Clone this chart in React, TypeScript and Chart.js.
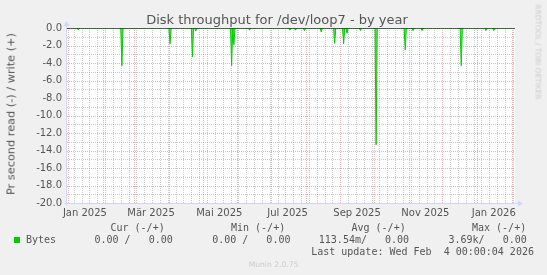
import React, { useEffect, useRef } from 'react';
import { Chart, registerables } from 'chart.js';

Chart.register(...registerables);

// ---------- data ----------
const TITLE = 'Disk throughput for /dev/loop7 - by year';
const Y_TITLE = 'Pr second read (-) / write (+)';
const WATERMARK = 'RRDTOOL / TOBI OETIKER';
const FOOTER = 'Munin 2.0.75';
const LAST_UPDATE = 'Last update: Wed Feb  4 00:00:04 2026';

// x = days since 31 Dec 2024 00:00 (graph spans 400 days up to 4 Feb 2026)
const DAY_MAX = 400;

// read (negative) throughput spikes: day index and value
const spikeDays = [10, 49, 92, 112, 115, 147, 149, 163, 199, 204, 212, 227, 239, 247, 250, 262, 276, 302, 309, 317, 352, 374, 381];
const spikeValues = [-0.2, -4.3, -1.8, -3.3, -0.35, -4.3, -1.9, -0.25, -0.25, -0.25, -0.3, -0.45, -1.75, -1.8, -0.6, -0.3, -13.35, -2.5, -0.3, -0.3, -4.3, -0.3, -0.3];

// write (positive) series: zero throughout
const writeDays = [0, DAY_MAX];
const writeValues = [0, 0];

// axis ticks
const monthStartDays = [1, 32, 60, 91, 121, 152, 182, 213, 244, 274, 305, 335, 366, 397];
const firstMonday = 6;
const xLabelDays = [16, 75, 136, 197, 259, 320, 381];
const xLabels = ['Jan 2025', 'Mär 2025', 'Mai 2025', 'Jul 2025', 'Sep 2025', 'Nov 2025', 'Jan 2026'];
const Y_MIN = -20;
const Y_MAX = 0;

// legend
const legendSeries = 'Bytes';
const legendHeaders = ['Cur (-/+)', 'Min (-/+)', 'Avg (-/+)', 'Max (-/+)'];
const legendValues = ['0.00 /   0.00', '0.00 /   0.00', '113.54m/   0.00', '3.69k/   0.00'];

// ---------- styles ----------
const GREEN = '#00cc00';
const FONT_COLOR = '#555555';
const AXIS_COLOR = '#CFD6F8';
const MAJOR_GRID = 'rgba(235,110,110,0.55)';
const MINOR_GRID = 'rgba(140,140,140,0.45)';
const SANS = '"DejaVu Sans", sans-serif';
const MONO = '"DejaVu Sans Mono", monospace';

const weekDays: number[] = [];
for (let d = firstMonday; d <= DAY_MAX; d += 7) weekDays.push(d);

const xTickValues = Array.from(new Set([...weekDays, ...monthStartDays, ...xLabelDays])).sort((a, b) => a - b);
const xLabelFor = (v: number) => {
  const i = xLabelDays.indexOf(v);
  return i >= 0 ? xLabels[i] : '';
};

const readSeries = Array.from({ length: DAY_MAX + 1 }, (_, d) => {
  const i = spikeDays.indexOf(d);
  return { x: d, y: i >= 0 ? spikeValues[i] : 0 };
});
const writeSeries = writeDays.map((d, i) => ({ x: d, y: writeValues[i] }));

const framePlugin = {
  id: 'muninFrame',
  beforeDraw(chart: any) {
    const { ctx, chartArea: a } = chart;
    ctx.save();
    ctx.fillStyle = '#f0f0f0';
    ctx.fillRect(0, 0, chart.width, chart.height);
    ctx.fillStyle = '#ffffff';
    ctx.fillRect(a.left, a.top, a.right - a.left, a.bottom - a.top);
    ctx.restore();
  },
  beforeDatasetsDraw(chart: any) {
    const { ctx, chartArea: a, scales } = chart;
    const xs = scales.x;
    const ys = scales.y;
    ctx.save();
    ctx.lineWidth = 1;
    ctx.setLineDash([1, 1]);
    const vline = (v: number, color: string) => {
      const px = Math.round(xs.getPixelForValue(v)) + 0.5;
      ctx.strokeStyle = color;
      ctx.beginPath();
      ctx.moveTo(px, a.bottom);
      ctx.lineTo(px, a.top);
      ctx.stroke();
    };
    const hline = (v: number, color: string) => {
      const py = Math.round(ys.getPixelForValue(v)) + 0.5;
      ctx.strokeStyle = color;
      ctx.beginPath();
      ctx.moveTo(a.left, py);
      ctx.lineTo(a.right, py);
      ctx.stroke();
    };
    weekDays.filter((d) => monthStartDays.indexOf(d) < 0).forEach((d) => vline(d, MINOR_GRID));
    for (let v = Y_MIN; v <= Y_MAX; v += 1) {
      if (Math.abs(v % 2) === 1) hline(v, MINOR_GRID);
    }
    monthStartDays.forEach((d) => vline(d, MAJOR_GRID));
    for (let v = Y_MIN; v <= Y_MAX; v += 2) hline(v, MAJOR_GRID);
    ctx.restore();
  },
  afterDraw(chart: any) {
    const { ctx, chartArea: a } = chart;
    ctx.save();
    ctx.strokeStyle = AXIS_COLOR;
    ctx.fillStyle = AXIS_COLOR;
    ctx.lineWidth = 1;
    const bx = Math.round(a.left) - 0.5;
    const by = Math.round(a.bottom) + 0.5;
    ctx.beginPath();
    ctx.moveTo(bx - 2, by);
    ctx.lineTo(a.right + 4, by);
    ctx.moveTo(bx, by + 2);
    ctx.lineTo(bx, a.top - 2);
    ctx.stroke();
    ctx.beginPath();
    ctx.moveTo(a.right + 3, by - 3);
    ctx.lineTo(a.right + 8, by);
    ctx.lineTo(a.right + 3, by + 3);
    ctx.closePath();
    ctx.fill();
    ctx.beginPath();
    ctx.moveTo(bx - 3, a.top - 2);
    ctx.lineTo(bx, a.top - 7);
    ctx.lineTo(bx + 3, a.top - 2);
    ctx.closePath();
    ctx.fill();
    ctx.restore();
  },
};

export default function App() {
  const ref = useRef<HTMLCanvasElement>(null);

  useEffect(() => {
    const chart = new Chart(ref.current as HTMLCanvasElement, {
      type: 'line',
      data: {
        datasets: [
          {
            label: 'read',
            data: readSeries,
            borderColor: GREEN,
            backgroundColor: 'rgba(0,204,0,0.6)',
            borderWidth: 1,
            fill: 'origin',
            pointRadius: 0,
            tension: 0,
            order: 2,
          },
          {
            label: 'zero',
            data: writeSeries,
            borderColor: '#000000',
            borderWidth: 1,
            fill: false,
            pointRadius: 0,
            tension: 0,
            order: 1,
          },
        ],
      },
      options: {
        animation: false,
        responsive: false,
        parsing: false as any,
        layout: { padding: { left: 0, top: 28, right: 32, bottom: 0 } },
        plugins: {
          legend: { display: false },
          title: { display: false },
          tooltip: { enabled: false },
        },
        scales: {
          x: {
            type: 'linear',
            min: 0,
            max: DAY_MAX,
            afterBuildTicks: (scale: any) => {
              scale.ticks = xTickValues.map((v) => ({ value: v }));
            },
            afterFit: (scale: any) => {
              scale.height = 72;
            },
            ticks: {
              autoSkip: false,
              maxRotation: 0,
              minRotation: 0,
              padding: 4,
              color: FONT_COLOR,
              font: { family: SANS, size: 10 },
              callback: (v: any) => xLabelFor(Number(v)),
            },
            grid: { display: false, drawTicks: false },
            border: { display: false },
          },
          y: {
            type: 'linear',
            min: Y_MIN,
            max: Y_MAX,
            afterFit: (scale: any) => {
              scale.width = 67;
            },
            ticks: {
              stepSize: 2,
              autoSkip: false,
              padding: 5,
              color: FONT_COLOR,
              font: { family: SANS, size: 10 },
              callback: (v: any) => Number(v).toFixed(1),
            },
            grid: { display: false, drawTicks: false },
            border: { display: false },
          },
        },
      } as any,
      plugins: [framePlugin],
    });
    return () => chart.destroy();
  }, []);

  const mono: React.CSSProperties = {
    position: 'absolute',
    fontFamily: MONO,
    fontSize: 10,
    lineHeight: '12px',
    color: FONT_COLOR,
    whiteSpace: 'pre',
  };
  const headerLefts = [110.5, 231, 351.5, 472];
  const valueLefts = [94.5, 212.2, 318.8, 448.5];

  return (
    <div
      style={{
        position: 'fixed',
        left: 0,
        top: 0,
        width: 547,
        height: 275,
        background: '#f0f0f0',
        overflow: 'hidden',
      }}
    >
      <canvas
        ref={ref}
        width={547}
        height={275}
        style={{ position: 'absolute', left: 0, top: 0, width: 547, height: 275 }}
      />
      <div
        style={{
          position: 'absolute',
          left: 277,
          top: 11.5,
          transform: 'translateX(-50%)',
          fontFamily: SANS,
          fontSize: 13,
          lineHeight: '16px',
          color: FONT_COLOR,
          whiteSpace: 'nowrap',
        }}
      >
        {TITLE}
      </div>
      <div
        style={{
          position: 'absolute',
          left: 10.5,
          top: 113.5,
          transform: 'translate(-50%, -50%) rotate(-90deg)',
          fontFamily: SANS,
          fontSize: 11.3,
          lineHeight: '13px',
          color: FONT_COLOR,
          whiteSpace: 'nowrap',
        }}
      >
        {Y_TITLE}
      </div>
      <div
        style={{
          position: 'absolute',
          left: 538,
          top: 52,
          transform: 'translate(-50%, -50%) rotate(90deg)',
          fontFamily: SANS,
          fontSize: 7.4,
          lineHeight: '9px',
          color: '#cccccc',
          whiteSpace: 'nowrap',
        }}
      >
        {WATERMARK}
      </div>
      {legendHeaders.map((h, i) => (
        <div key={'h' + i} style={{ ...mono, left: headerLefts[i], top: 222 }}>
          {h}
        </div>
      ))}
      <div
        style={{ position: 'absolute', left: 14, top: 237, width: 6, height: 6, background: GREEN }}
      />
      <div style={{ ...mono, left: 26, top: 234 }}>{legendSeries}</div>
      {legendValues.map((v, i) => (
        <div key={'v' + i} style={{ ...mono, left: valueLefts[i], top: 234 }}>
          {v}
        </div>
      ))}
      <div style={{ ...mono, left: 311.2, top: 246 }}>{LAST_UPDATE}</div>
      <div
        style={{
          position: 'absolute',
          left: 273.5,
          top: 264,
          transform: 'translate(-50%, -50%)',
          fontFamily: SANS,
          fontSize: 7.6,
          lineHeight: '9px',
          color: '#cccccc',
          whiteSpace: 'nowrap',
        }}
      >
        {FOOTER}
      </div>
    </div>
  );
}
